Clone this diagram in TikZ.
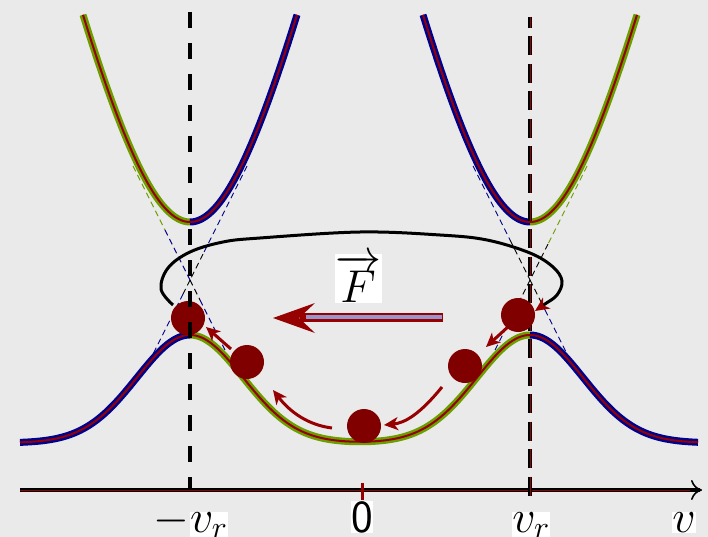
\RequirePackage{fix-cm}
\documentclass[tikz,border=0pt]{standalone}
\usetikzlibrary{arrows.meta,calc}
\definecolor{bg}{RGB}{234,234,234}
\definecolor{dred}{RGB}{150,0,0}
\definecolor{ballred}{RGB}{128,0,0}
\definecolor{cgreen}{RGB}{108,158,0}
\definecolor{cblue}{RGB}{0,0,140}
\definecolor{lav}{RGB}{150,150,205}
\setlength{\fboxsep}{0.5pt}
\tikzset{
  bluec/.style={cblue, line width=7pt, postaction={draw=dred, line width=2pt}},
  greenc/.style={cgreen, line width=7pt, postaction={draw=dred, line width=2pt}},
  tdash/.style={line width=0.9pt, dash pattern=on 6pt off 4pt},
  ball/.style={circle, fill=ballred, minimum size=34pt, inner sep=0pt},
  smallarrow/.style={dred, line width=3pt, -{Stealth[length=14pt,width=13pt,inset=4pt]}},
  lab/.style={font=\fontsize{46}{50}\selectfont, fill=white, inner sep=0.5pt, anchor=base},
}
\begin{document}
\begin{tikzpicture}[x=1pt,y=-1pt,
  declare function={low(\t)=443-108*(exp(-0.5*((\t-190)/53)^2)+exp(-0.5*((\t-530)/53)^2));
                    up(\t,\c)=222-405*(sqrt(1+((\t-\c)/94.4)^2)-1);}]
\fill[bg] (0,0) rectangle (708,537);
\useasboundingbox (0,0) rectangle (708,537);

% crossing points of the thin dashed lines
\coordinate (XL) at (190,280);
\coordinate (XR) at (530,280);
% left crossing
\draw[tdash,cgreen] ($(XL)+(-57,-114)$) -- ($(XL)+(-25,-50)$);
\draw[tdash,cblue]  ($(XL)+(-25,-50)$) -- (XL);
\draw[tdash,cblue]  ($(XL)+(57,-114)$) -- ($(XL)+(13,-26)$);
\draw[tdash,black]  ($(XL)+(13,-26)$) -- (XL);
\draw[tdash,black]  (XL) -- ($(XL)+(-7,14)$);
\draw[tdash,cblue]  ($(XL)+(-7,14)$) -- ($(XL)+(-45,90)$);
\draw[tdash,black]  (XL) -- ($(XL)+(10,20)$);
\draw[tdash,cblue]  ($(XL)+(10,20)$) -- ($(XL)+(35,70)$);
% right crossing
\draw[tdash,cblue]  ($(XR)+(-57,-114)$) -- ($(XR)+(-20,-40)$);
\draw[tdash,black]  ($(XR)+(-20,-40)$) -- (XR);
\draw[tdash,cgreen] ($(XR)+(57,-114)$) -- ($(XR)+(18,-36)$);
\draw[tdash,black]  ($(XR)+(18,-36)$) -- (XR);
\draw[tdash,black]  (XR) -- ($(XR)+(-10,20)$);
\draw[tdash,cblue]  ($(XR)+(-10,20)$) -- ($(XR)+(-35,70)$);
\draw[tdash,black]  (XR) -- ($(XR)+(15,30)$);
\draw[tdash,cblue]  ($(XR)+(15,30)$) -- ($(XR)+(40,80)$);

% upper curves
\draw[greenc] plot[domain=83:190,samples=60] (\x,{up(\x,190)});
\draw[bluec]  plot[domain=190:297,samples=60] (\x,{up(\x,190)});
\draw[bluec]  plot[domain=423:530,samples=60] (\x,{up(\x,530)});
\draw[greenc] plot[domain=530:637,samples=60] (\x,{up(\x,530)});
% lower curve
\draw[bluec]  plot[domain=20:190,samples=80] (\x,{low(\x)});
\draw[greenc] plot[domain=190:530,samples=140] (\x,{low(\x)});
\draw[bluec]  plot[domain=530:698,samples=80] (\x,{low(\x)});

% axis
\coordinate (ax0) at (20,490);
\coordinate (ax1) at (702,490);
\coordinate (ax2) at (690,490);
\draw[line width=4pt,-{To[length=11pt,width=20pt,line width=1.6pt]}] (ax0) -- (ax1);
\draw[dred,line width=0.4pt] (ax0) -- (ax2);
\coordinate (t0a) at (362,483);
\coordinate (t0b) at (362,500);
\draw[dred,line width=3pt] (t0a) -- (t0b);

% black loop
\coordinate (ls) at (173,305);
\coordinate (le) at (535,311);
\draw[line width=3pt,-{Stealth[color=dred,length=14pt,width=13pt,inset=4pt]}]
  plot[smooth,tension=0.6] coordinates {(ls) (161,289) (168,268) (190,252) (223,242) (260,238) (360,232) (440,235) (487,240) (530,253) (553,267) (562,281) (557,295) (545,304) (le)};

% force arrow
\coordinate (Fa) at (443,317);
\coordinate (Fb) at (300,317);
\coordinate (Ft) at (273,318);
\draw[dred,line width=9pt] (Fa) -- (Fb);
\draw[lav,line width=4.5pt] ($(Fa)+(-1,0)$) -- ($(Fb)+(6,0)$);
\fill[dred] (Ft) -- (315,303) -- (299,318) -- (315,333) -- cycle;
\node[lab] (F) at (358,302) {$\overrightarrow{F}$};

% small arrows
\coordinate (a1s) at (510,325); \coordinate (a1e) at (486,347);
\coordinate (a2s) at (442,387); \coordinate (a2e) at (384,425);
\coordinate (a3s) at (332,428); \coordinate (a3e) at (273,390);
\coordinate (a4s) at (231,349); \coordinate (a4e) at (206,327);
\draw[smallarrow] (a1s) -- (a1e);
\draw[smallarrow] (a2s) .. controls (420,414) and (405,423) .. (a2e);
\draw[smallarrow] (a3s) .. controls (308,425) and (290,412) .. (a3e);
\draw[smallarrow] (a4s) -- (a4e);

% right vertical dashed line
\coordinate (vrt) at (530,17);
\coordinate (vrb) at (530,502);
\draw[line width=4.5pt,dash pattern=on 19pt off 8.5pt,dash phase=8pt,
      postaction={draw=dred,line width=0.45pt,dash pattern=on 19pt off 8.5pt,dash phase=8pt}] (vrt) -- (vrb);

% balls
\node[ball] (b1) at (188,318) {};
\node[ball] (b2) at (247,362) {};
\node[ball] (b3) at (364,426) {};
\node[ball] (b4) at (465,366) {};
\node[ball] (b5) at (518,315) {};

% left vertical dashed line
\coordinate (vlt) at (190,12);
\coordinate (vlb) at (190,490);
\draw[line width=4pt,dash pattern=on 16pt off 15pt] (vlt) -- (vlb);

% labels
\node[lab,fill=none] (lmv) at (191,532) {$-\colorbox{white}{$v_r$}$};
\node[lab] (l0) at (362,532) {\textsf{0}};
\node[lab] (lv) at (531,532) {$v_r$};
\node[lab] (lw) at (684,532) {$v$};
\end{tikzpicture}
\end{document}
